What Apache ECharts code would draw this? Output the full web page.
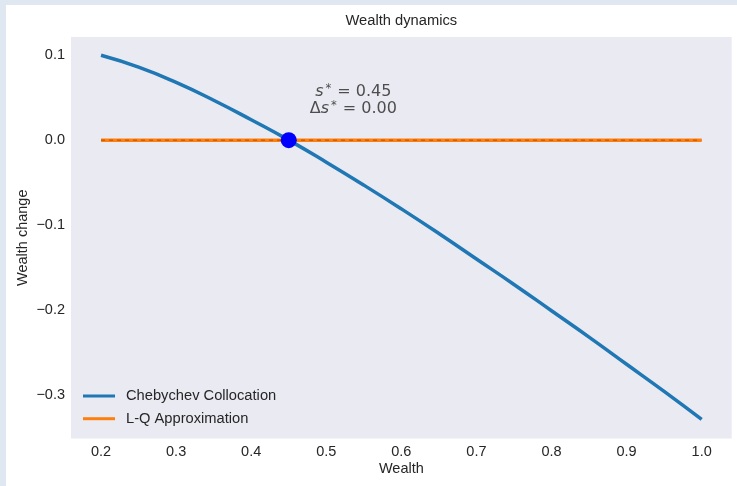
<!DOCTYPE html>
<html>
<head>
<meta charset="utf-8">
<script src="https://cdn.jsdelivr.net/npm/echarts@6/dist/echarts.min.js"></script>
<style>
html,body{margin:0;padding:0;background:#dfe7f1;width:737px;height:486px;overflow:hidden;}
#chart{position:absolute;left:6px;top:5px;width:731px;height:481px;background:#fff;}
</style>
</head>
<body>
<div id="chart"></div>
<script>
// Data
const wealth = [0.20, 0.25, 0.30, 0.35, 0.40, 0.45, 0.50, 0.55, 0.60, 0.65, 0.70, 0.75, 0.80, 0.85, 0.90, 0.95, 1.00];
const chebychev = [0.100, 0.086, 0.068, 0.047, 0.024, 0.000, -0.026, -0.053, -0.081, -0.110, -0.140, -0.170, -0.201, -0.232, -0.264, -0.296, -0.329];
const lqApprox = [0, 0, 0, 0, 0, 0, 0, 0, 0, 0, 0, 0, 0, 0, 0, 0, 0];
const steadyState = [0.45, 0.00];
const annotationPos = [0.536, 0.047];
const xTicks = [0.2, 0.3, 0.4, 0.5, 0.6, 0.7, 0.8, 0.9, 1.0];
const yTicks = [-0.3, -0.2, -0.1, 0.0, 0.1];

const FONT = 'Liberation Sans, Arial, sans-serif';
const TXT = '#262626';
const FS = 14.5;
const chart = echarts.init(document.getElementById('chart'), null, {renderer: 'canvas'});
const zip = (a, b) => a.map((v, i) => [v, b[i]]);

chart.setOption({
  animation: false,
  graphic: [{
    type: 'text', silent: true,
    style: {
      text: 'Wealth dynamics', x: 395.3, y: 16, align: 'center', verticalAlign: 'middle',
      fontFamily: FONT, fontSize: 14.7, fill: TXT
    }
  }],
  grid: {
    left: 65, top: 32, right: 5.3, bottom: 47.5,
    containLabel: false, outerBoundsMode: 'none',
    show: true, backgroundColor: '#eaeaf2', borderWidth: 0
  },
  legend: {
    orient: 'vertical', left: 72, top: 378,
    itemWidth: 32, itemHeight: 3, itemGap: 6.7,
    textStyle: {fontFamily: FONT, fontSize: 14.7, color: TXT, lineHeight: 16, padding: [0, 0, 0, 6]},
    data: [
      {name: 'Chebychev Collocation', icon: 'rect'},
      {name: 'L-Q Approximation', icon: 'rect'}
    ]
  },
  xAxis: {
    type: 'value', min: 0.16, max: 1.04,
    name: 'Wealth', nameLocation: 'middle', nameGap: 23, nameMoveOverlap: false,
    nameTextStyle: {fontFamily: FONT, fontSize: FS, color: TXT},
    axisLine: {show: false}, axisTick: {show: false, customValues: xTicks},
    splitLine: {show: false},
    axisLabel: {customValues: xTicks, margin: 6, fontFamily: FONT, fontSize: FS, color: TXT,
      formatter: v => v.toFixed(1)}
  },
  yAxis: {
    type: 'value', min: -0.3515, max: 0.1215,
    name: 'Wealth change', nameLocation: 'middle', nameGap: 41, nameMoveOverlap: false,
    nameTextStyle: {fontFamily: FONT, fontSize: FS, color: TXT},
    axisLine: {show: false}, axisTick: {show: false, customValues: yTicks},
    splitLine: {show: false},
    axisLabel: {customValues: yTicks, margin: 6, fontFamily: FONT, fontSize: FS, color: TXT,
      formatter: v => (v < -1e-9 ? '\u2212' : '') + Math.abs(v).toFixed(1)}
  },
  series: [
    {
      name: 'Chebychev Collocation', type: 'line', data: zip(wealth, chebychev),
      smooth: true, showSymbol: false, symbol: 'none', color: '#1f77b4',
      lineStyle: {width: 3.5, color: '#1f77b4'}, z: 3
    },
    {
      name: 'L-Q Approximation', type: 'line', data: zip(wealth, lqApprox),
      showSymbol: false, symbol: 'none', color: '#ff7f0e',
      lineStyle: {width: 3.5, color: '#ff7f0e'}, z: 2
    },
    {
      name: 'zero', type: 'line', data: zip(wealth, lqApprox),
      showSymbol: false, symbol: 'none',
      lineStyle: {width: 1, color: 'rgba(0,0,0,0.35)', type: [4, 4]}, z: 4
    },
    {
      name: 'steady', type: 'scatter', data: [steadyState],
      symbol: 'circle', symbolSize: 16, itemStyle: {color: '#0000ff', opacity: 1}, z: 5
    },
    {
      name: 'note', type: 'scatter', data: [annotationPos], symbolSize: 0, silent: true,
      label: {
        show: true, position: 'inside', align: 'center', verticalAlign: 'middle',
        formatter: '{i|s}{sup|*}{n| = 0.45}\n{n|Δ}{i|s}{sup|*}{n| = 0.00}',
        rich: {
          i: {fontFamily: 'DejaVu Sans', fontStyle: 'italic', fontSize: 16, color: TXT, lineHeight: 17.5},
          n: {fontFamily: 'DejaVu Sans', fontSize: 16, color: TXT, lineHeight: 17.5},
          sup: {fontFamily: 'DejaVu Sans', fontSize: 11.5, color: TXT, lineHeight: 17.5, verticalAlign: 'top', padding: [0, 1, 0, 2]}
        }
      }
    }
  ]
});
</script>
</body>
</html>
